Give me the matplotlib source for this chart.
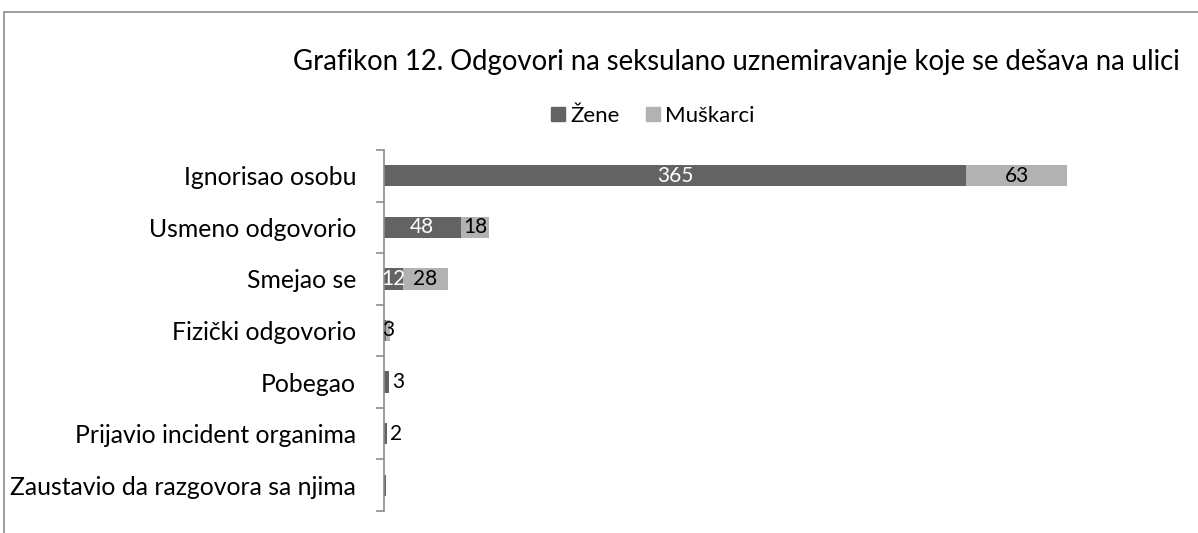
import matplotlib
matplotlib.use("Agg")
import matplotlib.pyplot as plt
from matplotlib.patches import Rectangle, Patch

categories = [
    "Ignorisao osobu",
    "Usmeno odgovorio",
    "Smejao se",
    "Fizički odgovorio",
    "Pobegao",
    "Prijavio incident organima",
    "Zaustavio da razgovora sa njima",
]
zene = [365, 48, 12, 1, 3, 2, 1]
muskarci = [63, 18, 28, 3, 0, 0, 0]

DARK = "#636363"
LIGHT = "#b2b2b2"
plt.rcParams["font.family"] = ["Lato", "DejaVu Sans"]

W, H = 1198, 533
fig = plt.figure(figsize=(W / 100, H / 100), dpi=100)
fig.patch.set_facecolor("white")

# outer chart frame (cut by the image edges)
fig.patches.append(Rectangle((4 / W, -0.1), 1.2, (H - 12) / H + 0.1,
                             transform=fig.transFigure, fill=False,
                             edgecolor="#8c8c8c", linewidth=1.2))

ax = fig.add_axes([384 / W, 22 / H, (1110 - 384) / W, (511 - 150) / H])
y = list(range(len(categories)))
ax.barh(y, zene, height=0.41, color=DARK, label="Žene")
ax.barh(y, muskarci, left=zene, height=0.41, color=LIGHT, label="Muškarci")

for i, (z, m) in enumerate(zip(zene, muskarci)):
    if m > 0:
        if z >= 10:
            ax.text(z / 2, i, str(z), color="white", ha="center", va="center", fontsize=15)
        ax.text(z + m / 2, i, str(m), color="black", ha="center", va="center", fontsize=15)
    elif z > 1:
        ax.text(z + 2, i, str(z), color="black", ha="left", va="center", fontsize=15)

ax.set_xlim(0, 455)
ax.set_ylim(len(categories) - 0.5, -0.5)
ax.set_yticks([k - 0.5 for k in range(len(categories) + 1)])
ax.set_yticklabels([])
ax.set_yticks(y, minor=True)
ax.set_yticklabels(categories, minor=True, fontsize=17.8)
ax.tick_params(axis="y", which="minor", length=0, pad=20)
ax.tick_params(axis="y", which="major", length=6, color="#8c8c8c", width=1.2)
ax.set_xticks([])
for side in ["top", "right", "bottom"]:
    ax.spines[side].set_visible(False)
ax.spines["left"].set_color("#8c8c8c")
ax.spines["left"].set_linewidth(1.2)

fig.text(736 / W, 1 - 62 / H, "Grafikon 12. Odgovori na seksulano uznemiravanje koje se dešava na ulici",
         ha="center", va="center", fontsize=19.8)
fig.legend(handles=[Patch(color=DARK, label="Žene"), Patch(color=LIGHT, label="Muškarci")],
           loc="center", bbox_to_anchor=(653 / W, 1 - 116 / H), ncol=2, frameon=False,
           fontsize=16, handlelength=0.6, handleheight=0.6, handletextpad=0.25,
           columnspacing=1.2)

fig.savefig("out.png", dpi=100, facecolor="white")
